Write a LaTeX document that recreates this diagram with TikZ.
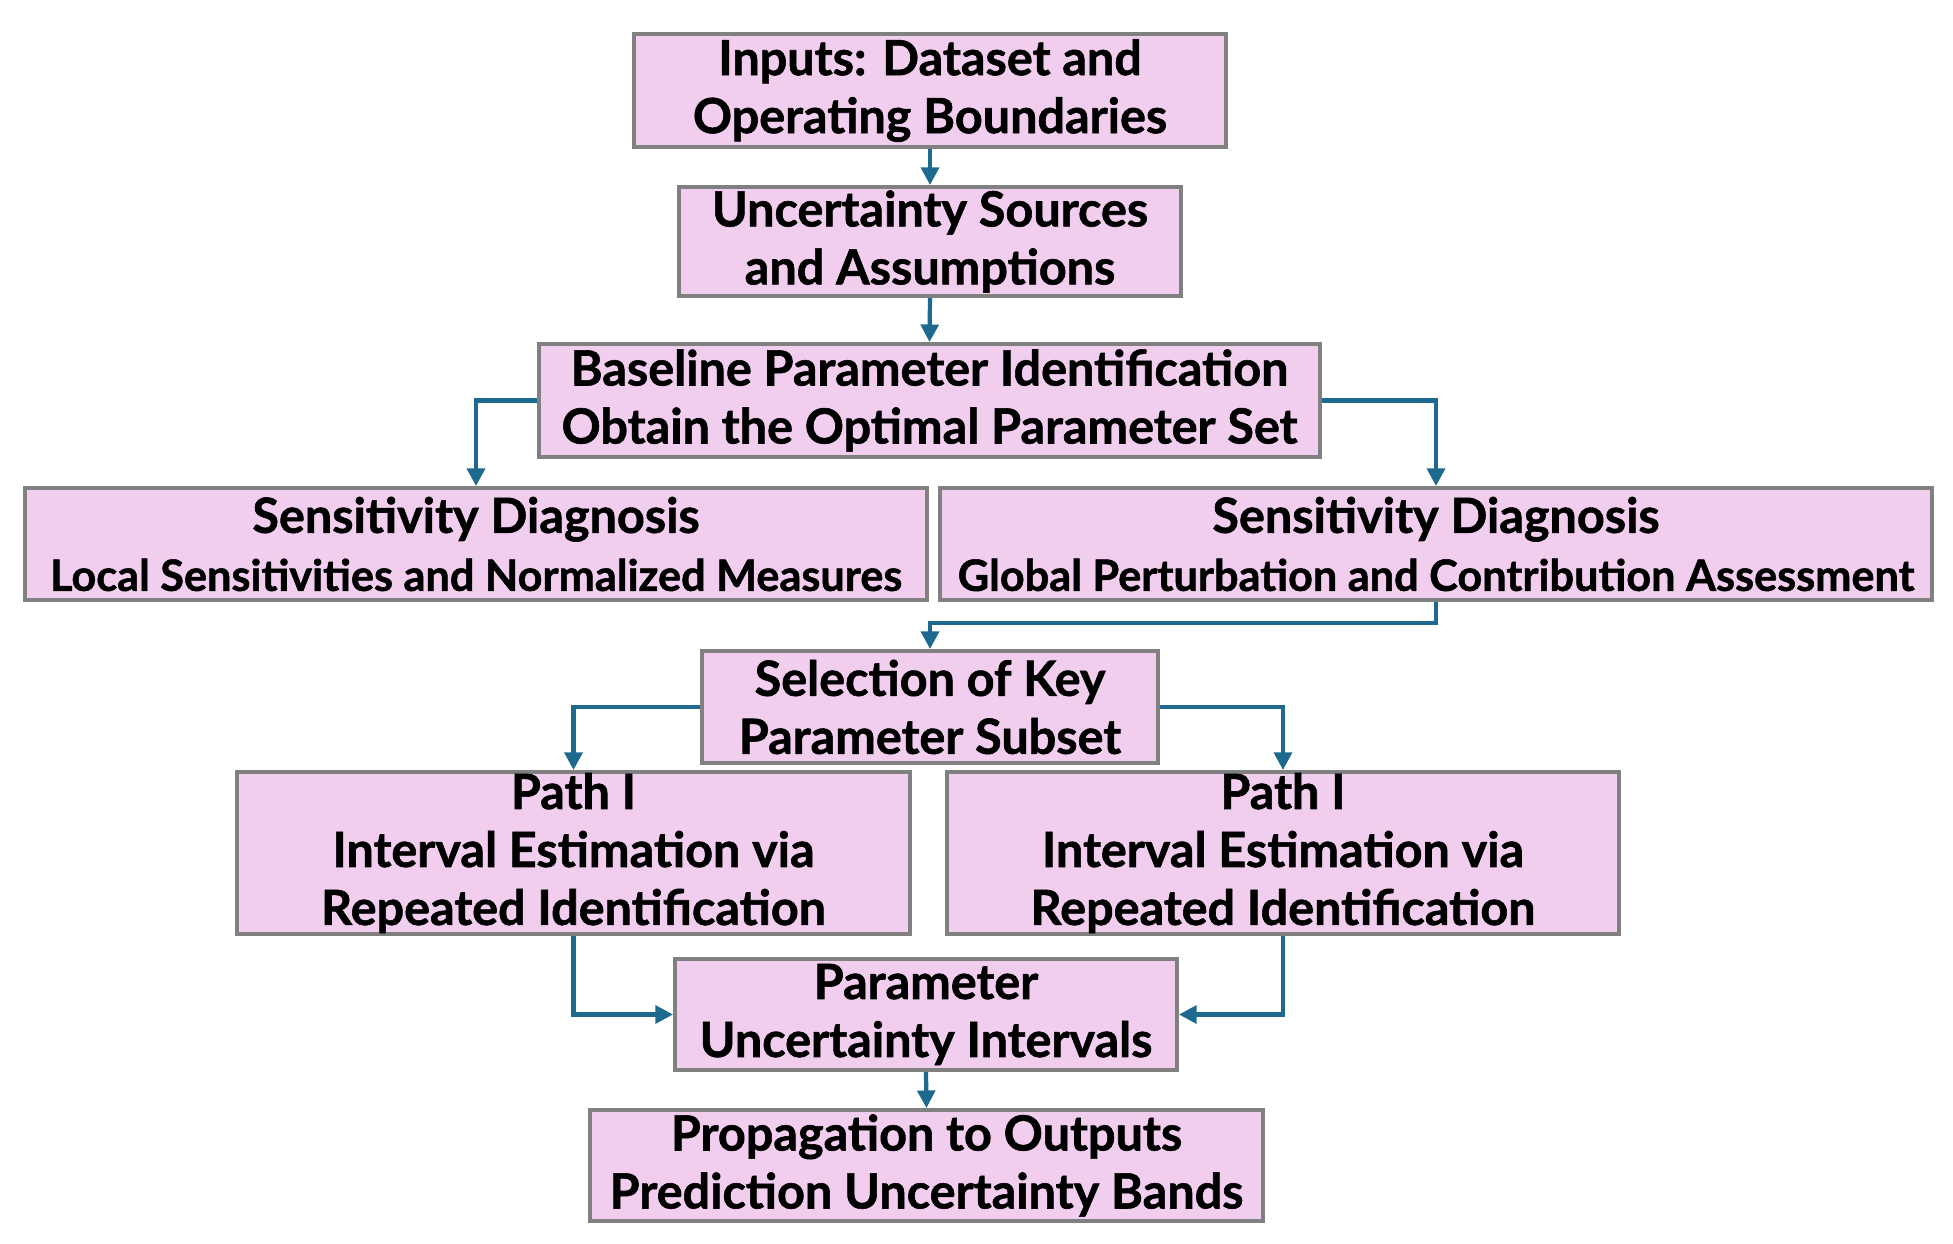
\documentclass[tikz,border=0pt]{standalone}
\usepackage{fontspec}
\setmainfont{Lato}[BoldFeatures={FakeBold=1.2}]
\usetikzlibrary{arrows.meta}
\definecolor{boxfill}{RGB}{241,205,238}
\definecolor{boxline}{RGB}{128,128,128}
\definecolor{arrowc}{RGB}{30,106,142}
\tikzset{
  box/.style={draw=boxline, line width=1.1pt, fill=boxfill, align=center, inner sep=0pt,
    font=\bfseries\fontsize{13.8}{16.5}\selectfont, text=black},
  conn/.style={draw=arrowc, line width=1.2pt, -{Triangle[length=5pt,width=5pt]}}
}
\newcommand{\subline}[1]{{\fontsize{12.3}{15.0}\selectfont #1}}
\begin{document}
\begin{tikzpicture}
\useasboundingbox[fill=white] (0,0) rectangle (19.53,-12.44);
\node[box, minimum width=5.92cm, minimum height=1.13cm] (b1) at (9.30,-0.905) {Inputs: Dataset and\\Operating Boundaries};
\node[box, minimum width=5.02cm, minimum height=1.09cm] (b2) at (9.30,-2.415) {Uncertainty Sources\\and Assumptions};
\node[box, minimum width=7.81cm, minimum height=1.13cm] (b3) at (9.295,-4.005) {Baseline Parameter Identification\\Obtain the Optimal Parameter Set};
\node[box, minimum width=9.02cm, minimum height=1.12cm] (b4l) at (4.76,-5.44) {Sensitivity Diagnosis\\\subline{Local Sensitivities and Normalized Measures}};
\node[box, minimum width=9.92cm, minimum height=1.12cm] (b4r) at (14.36,-5.44) {Sensitivity Diagnosis\\\subline{Global Perturbation and Contribution Assessment}};
\node[box, minimum width=4.56cm, minimum height=1.12cm] (b5) at (9.30,-7.07) {Selection of Key\\Parameter Subset};
\node[box, minimum width=6.73cm, minimum height=1.62cm] (b6l) at (5.735,-8.53) {Path I\\Interval Estimation via\\Repeated Identification};
\node[box, minimum width=6.72cm, minimum height=1.62cm] (b6r) at (12.83,-8.53) {Path I\\Interval Estimation via\\Repeated Identification};
\node[box, minimum width=5.02cm, minimum height=1.11cm] (b7) at (9.26,-10.145) {Parameter\\Uncertainty Intervals};
\node[box, minimum width=6.73cm, minimum height=1.11cm] (b8) at (9.265,-11.655) {Propagation to Outputs\\Prediction Uncertainty Bands};

\draw[conn] (b1.south) -- (b2.north);
\draw[conn] (b2.south) -- (b3.north);
\draw[conn] (b3.west) -| (b4l.north);
\draw[conn] (b3.east) -| (b4r.north);
\coordinate (m1) at (9.30,-6.23);
\draw[conn] (b4r.south) |- (m1) -- (b5.north);
\draw[conn] (b5.west) -| (b6l.north);
\draw[conn] (b5.east) -| (b6r.north);
\draw[conn] (b6l.south) |- (b7.west);
\draw[conn] (b6r.south) |- (b7.east);
\draw[conn] (b7.south) -- (b8.north);
\end{tikzpicture}
\end{document}
